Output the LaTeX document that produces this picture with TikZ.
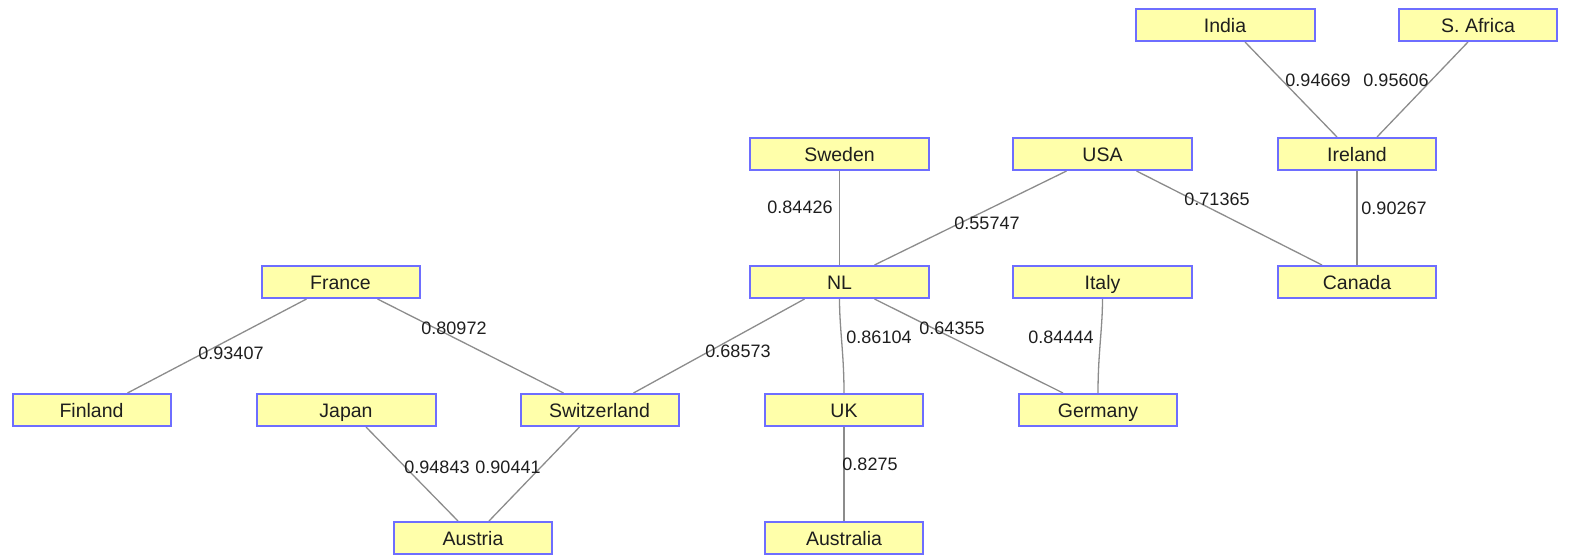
\documentclass[tikz,border=0pt]{standalone}
\usepackage{fontspec}
\setmainfont{Liberation Sans}
\usetikzlibrary{backgrounds}
\definecolor{boxfill}{RGB}{255,255,170}
\definecolor{boxline}{RGB}{110,110,255}
\definecolor{edgegray}{RGB}{140,140,140}
\definecolor{txt}{RGB}{30,30,30}
\tikzset{
  cbox/.style={rectangle, draw=boxline, line width=2pt, fill=boxfill, minimum height=32pt, inner sep=0pt, text height=18pt, text depth=4pt, text=txt, font=\fontsize{19.5}{22}\selectfont},
  wide/.style={cbox, minimum width=179pt},
  narrow/.style={cbox, minimum width=158pt},
  link/.style={draw=edgegray, line width=1.3pt},
  wlabel/.style={inner sep=0pt, text=txt, font=\fontsize{18}{20}\selectfont}
}
\begin{document}
\begin{tikzpicture}[x=1pt,y=-1pt]
\path[use as bounding box] (0,0) rectangle (1575,557);
% nodes
\node[wide]   (india)       at (1225,25)   {India};
\node[narrow] (safrica)     at (1478,25)   {S. Africa};
\node[wide]   (sweden)      at (839.5,154) {Sweden};
\node[wide]   (usa)         at (1102.5,154){USA};
\node[narrow] (ireland)     at (1357,154)  {Ireland};
\node[narrow] (france)      at (340.5,282) {France};
\node[wide]   (nl)          at (839.5,282) {NL};
\node[wide]   (italy)       at (1102.5,282){Italy};
\node[narrow] (canada)      at (1357,282)  {Canada};
\node[narrow] (finland)     at (91.5,410)  {Finland};
\node[wide]   (japan)       at (346,410)   {Japan};
\node[narrow] (switzerland) at (599.5,410) {Switzerland};
\node[narrow] (uk)          at (844,410)   {UK};
\node[narrow] (germany)     at (1098,410)  {Germany};
\node[narrow] (austria)     at (473,538)   {Austria};
\node[narrow] (australia)   at (844,538)   {Australia};
% edges
\begin{scope}[on background layer]
\draw[link] ([xshift=20pt]india.south) -- ([xshift=-20pt]ireland.north);
\draw[link] ([xshift=-10pt]safrica.south) -- ([xshift=20pt]ireland.north);
\draw[link] (ireland.south) -- (canada.north);
\draw[link] ([xshift=34pt]usa.south) -- ([xshift=-35pt]canada.north);
\draw[link] ([xshift=-36pt]usa.south) -- ([xshift=35pt]nl.north);
\draw[link] (sweden.south) -- (nl.north);
\draw[link] ([xshift=-35pt]nl.south) -- ([xshift=34pt]switzerland.north);
\draw[link] (nl.south) .. controls ([yshift=-30pt]nl.south) and ([yshift=40pt]uk.north) .. (uk.north);
\draw[link] ([xshift=35pt]nl.south) -- ([xshift=-35pt]germany.north);
\draw[link] (italy.south) .. controls ([yshift=-30pt]italy.south) and ([yshift=40pt]germany.north) .. (germany.north);
\draw[link] ([xshift=-34pt]france.south) -- ([xshift=36pt]finland.north);
\draw[link] ([xshift=37pt]france.south) -- ([xshift=-36pt]switzerland.north);
\draw[link] ([xshift=20pt]japan.south) -- ([xshift=-15pt]austria.north);
\draw[link] ([xshift=-20pt]switzerland.south) -- ([xshift=16pt]austria.north);
\draw[link] (uk.south) -- (australia.north);
\end{scope}
% labels
\node[wlabel] (l1)  at (1318,80)  {0.94669};
\node[wlabel] (l2)  at (1396,80)  {0.95606};
\node[wlabel] (l3)  at (1394,208) {0.90267};
\node[wlabel] (l4)  at (1217,199) {0.71365};
\node[wlabel] (l5)  at (987,223)  {0.55747};
\node[wlabel] (l6)  at (800,207)  {0.84426};
\node[wlabel] (l7)  at (738,351)  {0.68573};
\node[wlabel] (l8)  at (879,337)  {0.86104};
\node[wlabel] (l9)  at (952,328)  {0.64355};
\node[wlabel] (l10) at (1061,337) {0.84444};
\node[wlabel] (l11) at (231,353)  {0.93407};
\node[wlabel] (l12) at (454,328)  {0.80972};
\node[wlabel] (l13) at (437,467)  {0.94843};
\node[wlabel] (l14) at (508,467)  {0.90441};
\node[wlabel] (l15) at (870,464)  {0.8275};
\end{tikzpicture}
\end{document}
